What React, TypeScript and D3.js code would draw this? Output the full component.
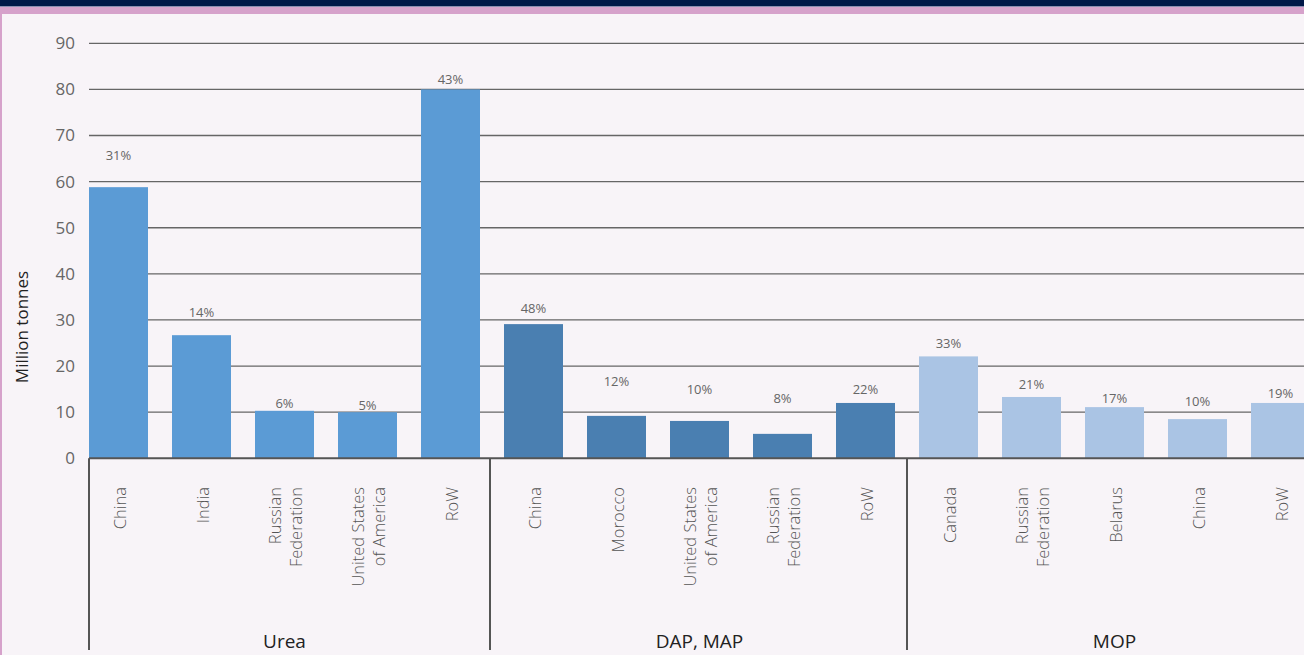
import { scaleBand, scaleLinear } from 'd3';

const groups = ['Urea', 'DAP, MAP', 'MOP'];
const groupColors = ['#5b9bd5', '#4a7fb1', '#aac4e4'];

const categories = [
  ['China', 'India', 'Russian\nFederation', 'United States\nof America', 'RoW'],
  ['China', 'Morocco', 'United States\nof America', 'Russian\nFederation', 'RoW'],
  ['Canada', 'Russian\nFederation', 'Belarus', 'China', 'RoW'],
];
const values = [
  [58.8, 26.7, 10.3, 10.0, 80.0],
  [29.1, 9.2, 8.1, 5.3, 12.0],
  [22.1, 13.3, 11.1, 8.5, 12.0],
];
const shares = [
  ['31%', '14%', '6%', '5%', '43%'],
  ['48%', '12%', '10%', '8%', '22%'],
  ['33%', '21%', '17%', '10%', '19%'],
];
const yTicks = [0, 10, 20, 30, 40, 50, 60, 70, 80, 90];

// label baseline offsets above bar tops (px), as laid out in the original
const labelOffsets = [
  [-27, -18, -3, -2, -5],
  [-11, -30, -27, -31, -9],
  [-8, -8, -4, -13, -5],
];

const width = 1304;
const height = 655;
const margin = { left: 89, top: 43.3, bottom: 458.3 };
const font = '"Open Sans", "Noto Sans", sans-serif';

function App() {
  const bars = groups.flatMap((g, gi) =>
    categories[gi].map((c, ci) => ({
      key: `${gi}-${ci}`,
      group: gi,
      label: c,
      value: values[gi][ci],
      share: shares[gi][ci],
      dy: labelOffsets[gi][ci],
    }))
  );

  const step = 83;
  const pad = 24;
  const x = scaleBand<string>()
    .domain(bars.map(d => d.key))
    .range([margin.left, margin.left + bars.length * step - pad])
    .paddingInner(pad / step)
    .paddingOuter(0);

  const y = scaleLinear().domain([0, 90]).range([margin.bottom, margin.top]);

  const bw = x.bandwidth();
  const firstKey = (gi: number) => `${gi}-0`;
  const lastKey = (gi: number) => `${gi}-${categories[gi].length - 1}`;
  const dividers = [
    margin.left,
    (x(lastKey(0))! + bw + x(firstKey(1))!) / 2 - 2,
    (x(lastKey(1))! + bw + x(firstKey(2))!) / 2,
  ];

  return (
    <svg
      width={width}
      height={height}
      style={{ position: 'absolute', left: 0, top: 0, fontFamily: font }}
    >
      <rect width={width} height={height} fill='#f8f4f8' />
      <rect width={width} height={6} fill='#001848' />
      <rect y={6} width={width} height={1} fill='#8a8fb0' />
      <rect y={7} width={width} height={7} fill='#d6a2cb' />
      <rect y={7} width={2} height={height} fill='#d6a2cb' />

      {yTicks.map(t => (
        <g key={t}>
          {t > 0 && (
            <line x1={margin.left} x2={width} y1={y(t)} y2={y(t)} stroke='#666' strokeWidth={1.3} />
          )}
          <text x={75} y={y(t)} dy='.35em' textAnchor='end' fontSize={17} fill='#666'>
            {t}
          </text>
        </g>
      ))}

      <text
        transform={`translate(28, 327) rotate(-90)`}
        textAnchor='middle'
        fontSize={17}
        fill='#222'
      >
        Million tonnes
      </text>

      {bars.map(d => (
        <rect
          key={d.key}
          x={x(d.key)}
          y={y(d.value)}
          width={bw}
          height={y(0) - y(d.value)}
          fill={groupColors[d.group]}
        />
      ))}

      {bars.map(d => (
        <text
          key={'s' + d.key}
          x={x(d.key)! + bw / 2}
          y={y(d.value) + d.dy}
          textAnchor='middle'
          fontSize={13}
          fill='#666'
        >
          {d.share}
        </text>
      ))}

      <line x1={margin.left} x2={width} y1={y(0)} y2={y(0)} stroke='#555' strokeWidth={2} />

      {dividers.map((dx, i) => (
        <line key={i} x1={dx} x2={dx} y1={y(0)} y2={650} stroke='#555' strokeWidth={2} />
      ))}

      {bars.map(d => {
        const lines = d.label.split('\n');
        const cx = x(d.key)! + bw / 2;
        const lh = 21;
        return (
          <g key={'c' + d.key}>
            {lines.map((l, li) => {
              const off = (li - (lines.length - 1) / 2) * lh;
              return (
                <text
                  key={li}
                  transform={`translate(${cx + off + 7}, 487) rotate(-90)`}
                  textAnchor='end'
                  fontSize={16.5}
                  fontWeight={300}
                  fill='#555'
                >
                  {l}
                </text>
              );
            })}
          </g>
        );
      })}

      {groups.map((g, gi) => {
        const cx = (x(firstKey(gi))! + x(lastKey(gi))! + bw) / 2;
        return (
          <text key={g} x={cx} y={648} textAnchor='middle' fontSize={19} fill='#222'>
            {g}
          </text>
        );
      })}
    </svg>
  );
}

export default App;
